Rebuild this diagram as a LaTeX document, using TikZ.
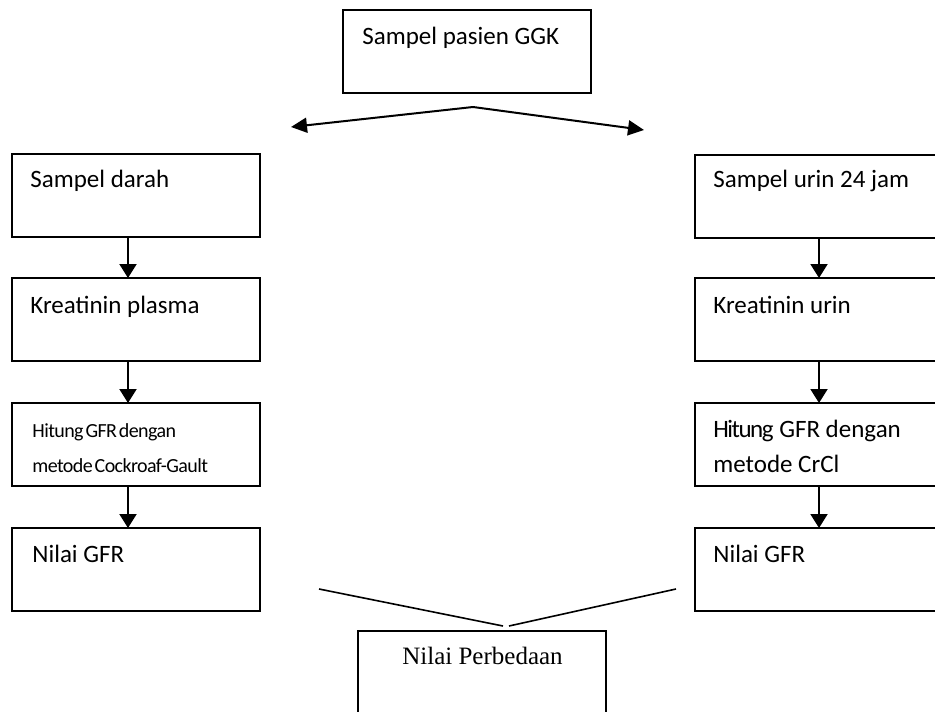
\documentclass[tikz,border=0pt]{standalone}
\usepackage{fontspec}
\setmainfont{Carlito}
\newfontfamily\serifnote{Liberation Serif}
\newfontfamily\tightfont[LetterSpace=-3,WordSpace=0.5]{Carlito}
\newfontfamily\narrowfont[LetterSpace=-6]{Carlito}
\usetikzlibrary{arrows.meta}
\tikzset{
  flowbox/.style={draw, line width=1pt, minimum width=124pt, minimum height=41.5pt,
                  inner sep=0pt, outer sep=0pt, anchor=north west},
  boxtext/.style={anchor=base west, inner sep=0pt, align=left,
                  font=\fontsize{12.5}{17.5}\selectfont},
  flowarrow/.style={line width=1pt, -{Triangle[length=7pt,width=8.5pt]}},
  splitarrow/.style={line width=1pt, -{Triangle[length=8pt,width=7.5pt]}},
  joinline/.style={line width=0.8pt}
}

\begin{document}
\begin{tikzpicture}[x=0.5pt,y=-0.5pt]
  \useasboundingbox (0,0) rectangle (935,711);
  \clip (0,0) rectangle (935,711);
  %
  % top box
  \node[flowbox] (pasien) at (343,10) {};
  \node[boxtext] (pasient) at (362,45) {Sampel pasien GGK};
  %
  % left column (blood)
  \node[flowbox] (darah)  at (12,154) {};
  \node[flowbox] (plasma) at (12,278) {};
  \node[flowbox] (cg)     at (12,403) {};
  \node[flowbox] (gfrl)   at (12,528) {};
  \node[boxtext] (daraht)  at (30,188) {Sampel darah};
  \node[boxtext] (plasmat) at (30,313) {Kreatinin plasma};
  \node[boxtext, font=\fontsize{10}{17.5}\tightfont] (cgt) at (32,472)
       {Hitung GFR dengan\\metode Cockroaf-Gault};  % anchored on the last line
  \node[boxtext] (gfrlt)   at (32,562) {Nilai GFR};
  %
  % right column (urine)
  \node[flowbox] (urin)   at (695,155) {};
  \node[flowbox] (kurin)  at (695,278) {};
  \node[flowbox] (crcl)   at (695,403) {};
  \node[flowbox] (gfrr)   at (695,528) {};
  \node[boxtext] (urint)  at (713,188) {Sampel urin 24 jam};
  \node[boxtext] (kurint) at (713,313) {Kreatinin urin};
  \node[boxtext] (crclt)  at (713,472) {{\narrowfont Hitung} GFR dengan\\metode CrCl};
  \node[boxtext] (gfrrt)  at (713,562) {Nilai GFR};
  %
  % bottom box
  \node[flowbox] (beda) at (358,631) {};
  \node[anchor=base, inner sep=0pt, font=\fontsize{12.5}{15}\serifnote] (bedat)
       at (482.5,664) {Nilai Perbedaan};
  %
  % split arrows below the top box
  \coordinate (apex)     at (473,107);
  \coordinate (lefttip)  at (291,127);
  \coordinate (righttip) at (644,130);
  \draw[splitarrow] (apex) -- (lefttip);
  \draw[splitarrow] (apex) -- (righttip);
  %
  % vertical arrows
  \foreach \a/\b in {darah/plasma, plasma/cg, cg/gfrl}
    \draw[flowarrow] ([xshift=-4pt]\a.south) -- ([xshift=-4pt]\b.north);
  \foreach \a/\b in {urin/kurin, kurin/crcl, crcl/gfrr}
    \draw[flowarrow] (\a.south) -- (\b.north);
  %
  % lines joining towards the bottom box
  \coordinate (joinfroml) at (319,589);
  \coordinate (joinfromr) at (676,589);
  \coordinate (joinl) at (503,626);
  \coordinate (joinr) at (509,626);
  \draw[joinline] (joinfroml) -- (joinl);
  \draw[joinline] (joinfromr) -- (joinr);
\end{tikzpicture}
\end{document}
